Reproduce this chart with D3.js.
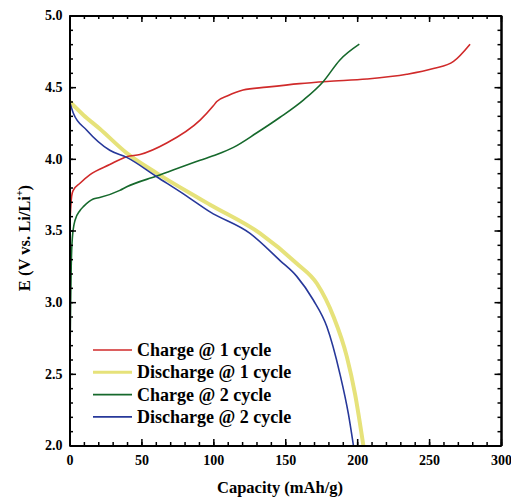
<meta charset="utf-8">
<script src="https://d3js.org/d3.v7.min.js"></script>
<body style="margin:0;background:#fff">
<div id="chart"></div>
<style>
  text { font-family: "Liberation Serif", "Times New Roman", serif; font-weight: bold; }
  .axis path, .axis line { stroke: #000; }
  .axis path { stroke-width: 2px; }
  .axis line { stroke-width: 1.5px; }
  .axis text { font-size: 14px; fill: #000; }
</style>
<script>

// charge / discharge curves (capacity in mAh/g, voltage in V)
var charge1Cap  = [0.5, 1.5, 2.6, 7.3, 14.3, 28, 39.8, 49, 67.6, 90.8, 100, 102.4, 110, 120.7, 137, 160, 179, 206.7, 234.5, 253, 267, 278.5]
var charge1V    = [3.60, 3.74, 3.78, 3.83, 3.89, 3.96, 4.015, 4.03, 4.11, 4.27, 4.37, 4.40, 4.44, 4.48, 4.50, 4.525, 4.54, 4.557, 4.59, 4.63, 4.68, 4.80]

var discharge1Cap = [0, 9.6, 21, 39.8, 60.6, 90.8, 97.7, 132.5, 158, 172, 183.5, 192.8, 198.5, 204.3]
var discharge1V   = [4.40, 4.306, 4.21, 4.04, 3.90, 3.72, 3.68, 3.48, 3.27, 3.13, 2.90, 2.62, 2.36, 2.0]

var charge2Cap  = [0.5, 0.8, 1.2, 2, 3.8, 7.3, 10, 16.5, 21, 35, 39.8, 60.6, 90.8, 102.4, 114, 130, 146.4, 162.6, 176.5, 188, 201.5]
var charge2V    = [2.75, 3.0, 3.25, 3.45, 3.57, 3.64, 3.67, 3.72, 3.73, 3.78, 3.805, 3.88, 3.99, 4.03, 4.08, 4.18, 4.29, 4.41, 4.54, 4.69, 4.80]

var discharge2Cap = [0, 2.6, 12, 28, 39.8, 60.6, 81.5, 97.7, 125.5, 146.4, 158, 169.5, 178.9, 188, 193.9, 197.4]
var discharge2V   = [4.40, 4.32, 4.20, 4.06, 4.01, 3.875, 3.74, 3.63, 3.48, 3.29, 3.18, 3.015, 2.83, 2.50, 2.22, 2.0]

var seriesNames = ["Charge @ 1 cycle", "Discharge @ 1 cycle", "Charge @ 2 cycle", "Discharge @ 2 cycle"]
var seriesColors = ["#d02a2a", "#e6e27a", "#16692c", "#27389a"]
var seriesWidths = [1.6, 4, 1.6, 1.6]

var xMajor = [0, 50, 100, 150, 200, 250, 300]
var yMajor = [2.0, 2.5, 3.0, 3.5, 4.0, 4.5, 5.0]

var width = 511
var height = 498
var margin = {left: 69.5, right: 10, top: 15.5, bottom: 52.5}

var svg = d3.select("#chart").append("svg")
    .attr("width", width)
    .attr("height", height)

var x = d3.scaleLinear().domain([0, 300]).range([margin.left, width - margin.right])
var y = d3.scaleLinear().domain([2, 5]).range([height - margin.bottom, margin.top])

var xMinor = d3.range(0, 301, 10)
var yMinor = d3.range(20, 51, 1).map(function(d){ return d / 10 })

svg.append("clipPath").attr("id", "clip")
  .append("rect")
    .attr("x", x(0)).attr("y", y(5))
    .attr("width", x(300) - x(0)).attr("height", y(2) - y(5))

var series = [
  {cap: charge1Cap, v: charge1V},
  {cap: discharge1Cap, v: discharge1V},
  {cap: charge2Cap, v: charge2V},
  {cap: discharge2Cap, v: discharge2V}
]

var line = d3.line()
    .x(function(d){ return x(d[0]) })
    .y(function(d){ return y(d[1]) })
    .curve(d3.curveMonotoneX)

// draw yellow first so the others stay visible
var order = [1, 0, 2, 3]
order.forEach(function(i){
  var pts = series[i].cap.map(function(c, j){ return [c, series[i].v[j]] })
  svg.append("path")
    .attr("clip-path", "url(#clip)")
    .attr("d", line(pts))
    .attr("fill", "none")
    .attr("stroke", seriesColors[i])
    .attr("stroke-width", seriesWidths[i])
})

// axes: minor ticks, then major ticks with labels, all pointing in
function addAxis(axis, tx, ty) {
  svg.append("g").attr("class", "axis")
    .attr("transform", "translate(" + tx + "," + ty + ")")
    .call(axis)
}
var fmt = d3.format(".1f")
addAxis(d3.axisBottom(x).tickValues(xMinor).tickSize(-3.5).tickSizeOuter(0).tickFormat(""), 0, y(2))
addAxis(d3.axisBottom(x).tickValues(xMajor).tickSize(-6.5).tickSizeOuter(0).tickPadding(10), 0, y(2))
addAxis(d3.axisTop(x).tickValues(xMinor).tickSize(-3.5).tickSizeOuter(0).tickFormat(""), 0, y(5))
addAxis(d3.axisTop(x).tickValues(xMajor).tickSize(-6.5).tickSizeOuter(0).tickFormat(""), 0, y(5))
addAxis(d3.axisLeft(y).tickValues(yMinor).tickSize(-3.5).tickSizeOuter(0).tickFormat(""), x(0), 0)
addAxis(d3.axisLeft(y).tickValues(yMajor).tickSize(-6.5).tickSizeOuter(0).tickPadding(7).tickFormat(fmt), x(0), 0)
addAxis(d3.axisRight(y).tickValues(yMinor).tickSize(-3.5).tickSizeOuter(0).tickFormat(""), x(300), 0)
addAxis(d3.axisRight(y).tickValues(yMajor).tickSize(-6.5).tickSizeOuter(0).tickFormat(""), x(300), 0)

// axis titles
svg.append("text")
    .attr("x", 280)
    .attr("y", 493)
    .attr("text-anchor", "middle")
    .attr("font-size", "16.5px")
    .text("Capacity (mAh/g)")

var yt = svg.append("text")
    .attr("transform", "translate(30," + 238 + ") rotate(-90)")
    .attr("text-anchor", "middle")
    .attr("font-size", "16.5px")
yt.append("tspan").text("E (V vs. Li/Li")
yt.append("tspan").attr("font-size", "10px").attr("dy", "-7").text("+")
yt.append("tspan").attr("dy", "7").text(")")

// legend
var legend = svg.append("g")
seriesNames.forEach(function(name, i){
  var ly = 350 + i * 22.3
  legend.append("line")
    .attr("x1", 93).attr("x2", 132)
    .attr("y1", ly).attr("y2", ly)
    .attr("stroke", seriesColors[i])
    .attr("stroke-width", i == 1 ? 3 : 1.6)
  legend.append("text")
    .attr("x", 137).attr("y", ly + 6)
    .attr("font-size", "18px")
    .text(name)
})

</script>
</body>
